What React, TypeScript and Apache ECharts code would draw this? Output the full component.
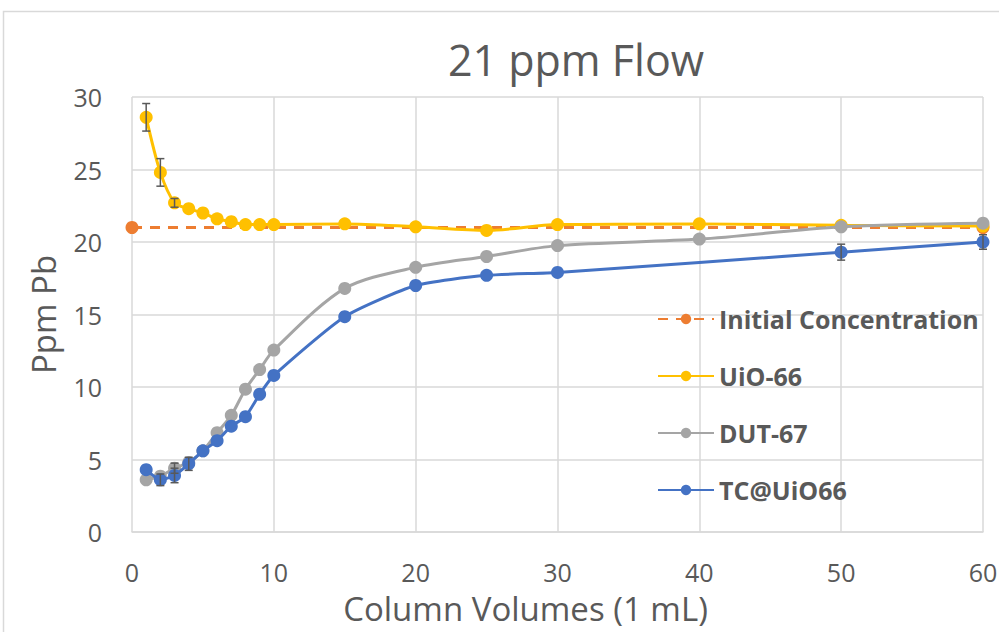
import React, { useEffect, useRef } from "react";
import * as echarts from "echarts";

const xFull = [1, 2, 3, 4, 5, 6, 7, 8, 9, 10, 15, 20, 25, 30, 40, 50, 60];
const xTC = [1, 2, 3, 4, 5, 6, 7, 8, 9, 10, 15, 20, 25, 30, 50, 60];
const uio66 = [28.6, 24.8, 22.7, 22.3, 22.0, 21.6, 21.4, 21.2, 21.2, 21.2, 21.25, 21.05, 20.8, 21.2, 21.25, 21.15, 21.1];
const dut67 = [3.6, 3.85, 4.4, 4.8, 5.6, 6.85, 8.05, 9.85, 11.2, 12.55, 16.8, 18.25, 19.0, 19.75, 20.2, 21.05, 21.3];
const tcUio66 = [4.3, 3.6, 3.9, 4.7, 5.6, 6.3, 7.3, 7.95, 9.5, 10.8, 14.85, 17.0, 17.7, 17.9, 19.3, 20.0];
const initialX = [0, 60];
const initialY = [21, 21];
const uioErr = [0.95, 0.95, 0.3, 0, 0, 0, 0, 0, 0, 0, 0, 0, 0, 0, 0, 0, 0];
const tcErr = [0, 0.4, 0.5, 0.45, 0, 0, 0, 0, 0, 0, 0, 0, 0, 0, 0.55, 0.5];
const dutErr = [0, 0, 0.35, 0, 0, 0, 0, 0, 0, 0, 0, 0, 0, 0, 0, 0, 0];

const seriesNames = ["Initial Concentration", "UiO-66", "DUT-67", "TC@UiO66"];
const FONT = "'Open Sans', sans-serif";
const TXT = "#595959";

function pairs(xs: number[], ys: number[]) {
  return xs.map((x, i) => [x, ys[i]]);
}
function errTriples(xs: number[], ys: number[], es: number[]) {
  return xs.map((x, i) => [x, ys[i], es[i]]).filter((d) => d[2] > 0);
}

export default function App() {
  const ref = useRef<HTMLDivElement>(null);
  useEffect(() => {
    if (!ref.current) return;
    const chart = echarts.init(ref.current, undefined, { renderer: "svg" });
    const errSeries = (data: number[][], z: number) => ({
      type: "custom",
      silent: true,
      z,
      dimensions: ["x", "y", "e"],
      encode: { x: 0, y: 1 },
      renderItem: (params: any, api: any) => {
        const x = api.value(0);
        const y = api.value(1);
        const e = api.value(2);
        const t = api.coord([x, y + e]);
        const b = api.coord([x, y - e]);
        const w = 4;
        const st = { stroke: "#595959", lineWidth: 1.5 };
        return {
          type: "group",
          children: [
            { type: "line", shape: { x1: t[0], y1: t[1], x2: b[0], y2: b[1] }, style: st },
            { type: "line", shape: { x1: t[0] - w, y1: t[1], x2: t[0] + w, y2: t[1] }, style: st },
            { type: "line", shape: { x1: b[0] - w, y1: b[1], x2: b[0] + w, y2: b[1] }, style: st },
          ],
        };
      },
      data,
    });
    const lineSeries = (name: string, data: number[][], color: string, z: number, smooth: number) => ({
      name,
      type: "line",
      data,
      z,
      smooth,
      symbol: "circle",
      symbolSize: 13,
      showSymbol: true,
      itemStyle: { color },
      lineStyle: { color, width: 3 },
    });
    chart.setOption({
      animation: false,
      backgroundColor: "#ffffff",
      title: {
        text: "21 ppm Flow",
        left: 571,
        top: 33,
        textAlign: "center",
        textStyle: { fontFamily: FONT, fontSize: 43, fontWeight: "normal", color: TXT },
      },
      graphic: [
        {
          type: "rect",
          shape: { x: 3.5, y: 11.5, width: 1100, height: 700 },
          style: { fill: "none", stroke: "#d9d9d9", lineWidth: 1.5 },
          silent: true,
        },
      ],
      grid: { left: 132, right: 16, top: 97, bottom: 100, containLabel: false, outerBoundsMode: "none" },
      legend: {
        data: seriesNames,
        orient: "vertical",
        left: 652,
        top: 301,
        itemWidth: 56,
        itemHeight: 13,
        itemGap: 31,
        textStyle: { fontFamily: FONT, fontSize: 25, fontWeight: "bold", color: TXT, lineHeight: 26 },
      },
      xAxis: {
        type: "value",
        min: 0,
        max: 60,
        interval: 10,
        name: "Column Volumes (1 mL)",
        nameLocation: "middle",
        nameGap: 58,
        nameTextStyle: { fontFamily: FONT, fontSize: 33, color: TXT, lineHeight: 36, padding: [0, 64, 0, 0] },
        axisLine: { show: true, lineStyle: { color: "#d9d9d9", width: 1.5 } },
        axisTick: { show: false },
        axisLabel: { fontFamily: FONT, fontSize: 25, color: TXT, margin: 27 },
        splitLine: { show: true, lineStyle: { color: "#d9d9d9", width: 1.5 } },
      },
      yAxis: {
        type: "value",
        min: 0,
        max: 30,
        interval: 5,
        name: "Ppm Pb",
        nameLocation: "middle",
        nameGap: 72,
        nameTextStyle: { fontFamily: FONT, fontSize: 33, color: TXT },
        axisLine: { show: false },
        axisTick: { show: false },
        axisLabel: { fontFamily: FONT, fontSize: 25, color: TXT, margin: 30 },
        splitLine: { show: true, lineStyle: { color: "#d9d9d9", width: 1.5 } },
      },
      series: [
        {
          name: "Initial Concentration",
          type: "line",
          data: pairs(initialX, initialY),
          z: 2,
          symbol: "circle",
          symbolSize: 13,
          itemStyle: { color: "#ED7D31" },
          lineStyle: { color: "#ED7D31", width: 3, type: [10, 8] },
        },
        lineSeries("UiO-66", pairs(xFull, uio66), "#FFC000", 3, 0.3),
        lineSeries("DUT-67", pairs(xFull, dut67), "#A5A5A5", 4, 0.3),
        lineSeries("TC@UiO66", pairs(xTC, tcUio66), "#4472C4", 5, 0.2),
        errSeries(errTriples(xFull, uio66, uioErr), 6),
        errSeries(errTriples(xFull, dut67, dutErr), 6),
        errSeries(errTriples(xTC, tcUio66, tcErr), 6),
      ],
    });
    return () => chart.dispose();
  }, []);
  return (
    <div
      ref={ref}
      style={{ position: "fixed", left: 0, top: 0, width: 999, height: 632 }}
    />
  );
}
